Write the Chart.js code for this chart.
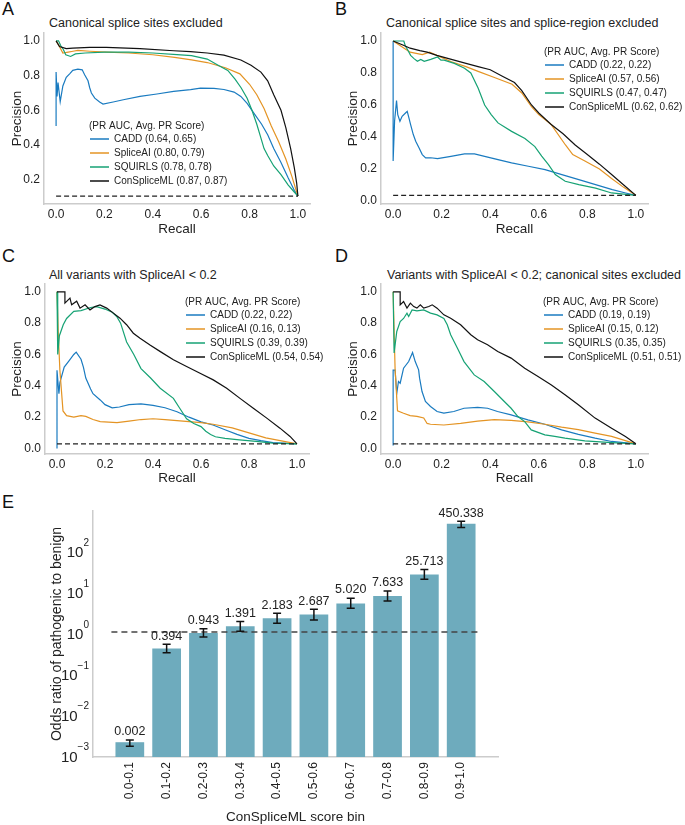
<!DOCTYPE html>
<html>
<head>
<meta charset="utf-8">
<script src="https://cdn.jsdelivr.net/npm/chart.js@4.4.1/dist/chart.umd.min.js"></script>
<style>
  body { margin: 0; background: #fff; }
  #fig { position: relative; width: 685px; height: 825px; font-family: 'Liberation Sans', Arial, sans-serif; color: #222; }
  #fig canvas { position: absolute; }
  .lab { position: absolute; font-size: 18px; line-height: 1; color: #111; }
  .ttl { position: absolute; font-size: 12.5px; line-height: 1; white-space: nowrap; }
</style>
</head>
<body>
<div id="fig">
  <div class="lab" style="left:2px;top:0px">A</div>
  <div class="lab" style="left:335px;top:0px">B</div>
  <div class="lab" style="left:2px;top:247px">C</div>
  <div class="lab" style="left:335px;top:247px">D</div>
  <div class="lab" style="left:2px;top:493px">E</div>
  <div class="ttl" style="left:49px;top:17px">Canonical splice sites excluded</div>
  <div class="ttl" style="left:386px;top:17px">Canonical splice sites and splice-region excluded</div>
  <div class="ttl" style="left:49px;top:269px">All variants with SpliceAI &lt; 0.2</div>
  <div class="ttl" style="left:387px;top:269px">Variants with SpliceAI &lt; 0.2; canonical sites excluded</div>
  <canvas id="pA" width="330" height="240" style="left:0px;top:0px"></canvas>
  <canvas id="pB" width="345" height="240" style="left:340px;top:0px"></canvas>
  <canvas id="pC" width="330" height="245" style="left:0px;top:245px"></canvas>
  <canvas id="pD" width="345" height="245" style="left:340px;top:245px"></canvas>
  <canvas id="pE" width="520" height="330" style="left:0px;top:495px"></canvas>
</div>
<script>
// ---- data: precision-recall curves, [recall, precision] ----
var tools = ["CADD", "SpliceAI", "SQUIRLS", "ConSpliceML"];
var colors = ["#1a7bc0", "#e49424", "#16a274", "#111111"];
var legendTitle = "(PR AUC, Avg. PR Score)";

// A: canonical splice sites excluded
var caddA = [[0,0.51],[0,0.82],[0.004,0.68],[0.008,0.76],[0.017,0.65],[0.028,0.74],[0.042,0.79],[0.056,0.81],[0.069,0.83],[0.09,0.837],[0.108,0.833],[0.118,0.805],[0.132,0.77],[0.139,0.73],[0.146,0.70],[0.16,0.67],[0.18,0.648],[0.194,0.636],[0.236,0.648],[0.278,0.661],[0.347,0.68],[0.417,0.694],[0.486,0.709],[0.556,0.719],[0.597,0.728],[0.653,0.726],[0.694,0.72],[0.736,0.705],[0.764,0.68],[0.79,0.64],[0.82,0.58],[0.85,0.52],[0.875,0.46],[0.9,0.38],[0.93,0.3],[0.96,0.21],[0.985,0.14],[1,0.106]];
var spliceA = [[0,1],[0.011,0.975],[0.028,0.93],[0.05,0.935],[0.07,0.94],[0.09,0.945],[0.14,0.94],[0.21,0.935],[0.3,0.93],[0.4,0.92],[0.49,0.905],[0.56,0.89],[0.625,0.875],[0.7,0.845],[0.76,0.81],[0.8,0.75],[0.83,0.69],[0.86,0.61],[0.89,0.51],[0.92,0.42],[0.95,0.32],[0.975,0.22],[1,0.106]];
var squirlsA = [[0,1],[0.01,1],[0.02,0.97],[0.03,0.95],[0.04,0.92],[0.06,0.91],[0.08,0.925],[0.12,0.93],[0.2,0.935],[0.3,0.935],[0.4,0.93],[0.5,0.92],[0.56,0.915],[0.625,0.895],[0.67,0.86],[0.71,0.83],[0.74,0.78],[0.765,0.73],[0.79,0.67],[0.81,0.6],[0.83,0.52],[0.845,0.45],[0.86,0.38],[0.875,0.34],[0.9,0.28],[0.93,0.23],[0.96,0.17],[0.985,0.13],[1,0.106]];
var consA = [[0,1],[0.014,0.967],[0.042,0.955],[0.069,0.958],[0.139,0.962],[0.208,0.962],[0.347,0.955],[0.486,0.943],[0.556,0.938],[0.625,0.93],[0.694,0.918],[0.764,0.89],[0.806,0.86],[0.847,0.82],[0.875,0.77],[0.9,0.69],[0.93,0.6],[0.95,0.5],[0.97,0.38],[0.985,0.27],[0.995,0.18],[1,0.106]];
var aucA = [0.64, 0.80, 0.78, 0.87];
var apA = [0.65, 0.79, 0.78, 0.87];
var baseA = 0.106;

// B: canonical splice sites and splice-region excluded
var caddB = [[0,1],[0,0.25],[0.006,0.5],[0.014,0.627],[0.019,0.54],[0.028,0.498],[0.037,0.529],[0.051,0.55],[0.058,0.56],[0.065,0.519],[0.072,0.477],[0.083,0.415],[0.093,0.373],[0.107,0.331],[0.12,0.29],[0.134,0.269],[0.155,0.27],[0.183,0.265],[0.238,0.279],[0.294,0.294],[0.335,0.294],[0.377,0.279],[0.432,0.258],[0.488,0.238],[0.557,0.217],[0.626,0.196],[0.695,0.165],[0.765,0.133],[0.834,0.102],[0.903,0.071],[0.958,0.05],[1,0.035]];
var spliceB = [[0,1],[0.05,0.95],[0.07,0.93],[0.12,0.915],[0.15,0.93],[0.18,0.91],[0.24,0.87],[0.3,0.84],[0.35,0.81],[0.42,0.77],[0.49,0.73],[0.53,0.675],[0.57,0.59],[0.6,0.54],[0.65,0.48],[0.71,0.35],[0.74,0.29],[0.79,0.25],[0.85,0.2],[0.9,0.14],[0.95,0.085],[1,0.035]];
var squirlsB = [[0,1],[0.044,1],[0.05,0.97],[0.058,0.95],[0.072,0.91],[0.086,0.89],[0.1,0.873],[0.114,0.885],[0.128,0.873],[0.155,0.885],[0.183,0.9],[0.197,0.88],[0.21,0.88],[0.252,0.86],[0.294,0.83],[0.32,0.8],[0.35,0.706],[0.377,0.6],[0.404,0.54],[0.432,0.488],[0.488,0.435],[0.543,0.39],[0.584,0.34],[0.612,0.28],[0.64,0.227],[0.668,0.165],[0.709,0.123],[0.765,0.102],[0.834,0.08],[0.9,0.05],[1,0.035]];
var consB = [[0,1],[0.04,0.975],[0.07,0.955],[0.11,0.94],[0.14,0.93],[0.18,0.91],[0.24,0.885],[0.3,0.86],[0.35,0.84],[0.4,0.82],[0.45,0.78],[0.5,0.74],[0.53,0.69],[0.57,0.6],[0.6,0.55],[0.65,0.48],[0.7,0.42],[0.75,0.35],[0.8,0.29],[0.85,0.23],[0.9,0.165],[0.95,0.1],[1,0.035]];
var aucB = [0.22, 0.57, 0.47, 0.62];
var apB = [0.22, 0.56, 0.47, 0.62];
var baseB = 0.035;

// C: all variants with SpliceAI < 0.2
var caddC = [[0,0.0],[0,0.5],[0.008,0.35],[0.012,0.42],[0.03,0.52],[0.05,0.56],[0.07,0.6],[0.08,0.615],[0.1,0.57],[0.11,0.52],[0.12,0.45],[0.14,0.38],[0.15,0.35],[0.18,0.31],[0.2,0.28],[0.23,0.26],[0.26,0.265],[0.3,0.28],[0.35,0.285],[0.4,0.275],[0.45,0.26],[0.5,0.235],[0.55,0.2],[0.6,0.17],[0.65,0.15],[0.7,0.12],[0.75,0.09],[0.8,0.065],[0.85,0.05],[0.9,0.038],[1,0.03]];
var spliceC = [[0,1.0],[0.005,0.75],[0.012,0.5],[0.025,0.24],[0.04,0.21],[0.07,0.2],[0.1,0.21],[0.12,0.205],[0.15,0.185],[0.18,0.172],[0.25,0.165],[0.3,0.175],[0.35,0.185],[0.4,0.19],[0.45,0.185],[0.5,0.178],[0.6,0.165],[0.65,0.155],[0.73,0.132],[0.8,0.1],[0.87,0.068],[0.93,0.05],[1,0.03]];
var squirlsC = [[0,1.0],[0.003,0.6],[0.01,0.72],[0.026,0.79],[0.04,0.83],[0.07,0.875],[0.1,0.88],[0.14,0.9],[0.165,0.905],[0.2,0.89],[0.23,0.87],[0.25,0.84],[0.265,0.8],[0.29,0.68],[0.32,0.6],[0.35,0.51],[0.39,0.45],[0.43,0.385],[0.485,0.32],[0.51,0.26],[0.54,0.19],[0.57,0.16],[0.6,0.14],[0.62,0.11],[0.64,0.09],[0.66,0.075],[0.7,0.065],[0.76,0.055],[0.83,0.045],[0.9,0.035],[1,0.03]];
var consC = [[0,1],[0.033,1],[0.033,0.928],[0.054,0.96],[0.061,0.917],[0.082,0.94],[0.096,0.896],[0.117,0.917],[0.1375,0.885],[0.158,0.906],[0.179,0.917],[0.207,0.896],[0.235,0.864],[0.2625,0.832],[0.29,0.79],[0.318,0.736],[0.346,0.704],[0.3875,0.66],[0.429,0.62],[0.485,0.566],[0.54,0.523],[0.596,0.48],[0.651,0.438],[0.707,0.385],[0.7625,0.32],[0.818,0.257],[0.874,0.194],[0.929,0.13],[0.971,0.077],[1,0.03]];
var aucC = [0.22, 0.16, 0.39, 0.54];
var apC = [0.22, 0.13, 0.39, 0.54];
var baseC = 0.03;

// D: SpliceAI < 0.2, canonical sites excluded
var caddD = [[0,0.02],[0,0.5],[0.008,0.5],[0.015,0.353],[0.022,0.428],[0.029,0.417],[0.043,0.513],[0.064,0.555],[0.08,0.613],[0.091,0.555],[0.105,0.502],[0.109,0.449],[0.119,0.364],[0.133,0.3],[0.154,0.268],[0.181,0.236],[0.209,0.226],[0.25,0.236],[0.292,0.257],[0.348,0.262],[0.389,0.257],[0.43,0.236],[0.486,0.215],[0.555,0.183],[0.625,0.155],[0.694,0.119],[0.763,0.09],[0.832,0.066],[0.9,0.045],[1,0.03]];
var spliceD = [[0,1],[0.008,0.51],[0.018,0.24],[0.043,0.225],[0.07,0.21],[0.098,0.205],[0.126,0.195],[0.14,0.16],[0.154,0.155],[0.209,0.15],[0.278,0.16],[0.348,0.175],[0.417,0.185],[0.486,0.18],[0.555,0.17],[0.625,0.155],[0.694,0.136],[0.763,0.12],[0.832,0.098],[0.9,0.077],[1,0.03]];
var squirlsD = [[0,1],[0.004,0.61],[0.015,0.747],[0.029,0.81],[0.043,0.83],[0.057,0.864],[0.064,0.843],[0.078,0.885],[0.098,0.879],[0.126,0.885],[0.154,0.864],[0.181,0.853],[0.209,0.83],[0.223,0.79],[0.237,0.726],[0.265,0.64],[0.292,0.555],[0.334,0.47],[0.375,0.428],[0.417,0.364],[0.458,0.3],[0.486,0.257],[0.514,0.204],[0.542,0.172],[0.569,0.119],[0.625,0.087],[0.666,0.077],[0.708,0.066],[0.79,0.049],[0.9,0.038],[1,0.03]];
var consD = [[0,1],[0.029,1],[0.029,0.917],[0.043,0.938],[0.057,0.896],[0.071,0.928],[0.085,0.906],[0.098,0.896],[0.112,0.917],[0.126,0.896],[0.147,0.906],[0.161,0.917],[0.181,0.896],[0.209,0.853],[0.237,0.832],[0.278,0.79],[0.32,0.726],[0.348,0.694],[0.389,0.662],[0.431,0.619],[0.486,0.577],[0.542,0.513],[0.597,0.46],[0.652,0.406],[0.708,0.343],[0.763,0.279],[0.832,0.194],[0.9,0.13],[0.957,0.077],[1,0.03]];
var aucD = [0.19, 0.15, 0.35, 0.51];
var apD = [0.19, 0.12, 0.35, 0.51];
var baseD = 0.03;

var prTicks = [0, 0.2, 0.4, 0.6, 0.8, 1.0];
var prTicksA = [0.2, 0.4, 0.6, 0.8, 1.0];

// E: odds ratio by ConSpliceML score bin
var bins = ["0.0-0.1","0.1-0.2","0.2-0.3","0.3-0.4","0.4-0.5","0.5-0.6","0.6-0.7","0.7-0.8","0.8-0.9","0.9-1.0"];
var odds = [0.002, 0.394, 0.943, 1.391, 2.183, 2.687, 5.020, 7.633, 25.713, 450.338];
var oddsLow = [0.0016, 0.31, 0.755, 1.04, 1.63, 1.97, 3.8, 5.75, 19.5, 365];
var oddsHigh = [0.00226, 0.5, 1.21, 1.82, 2.86, 3.59, 6.7, 10.1, 34, 514];
var oddsLabels = ["0.002","0.394","0.943","1.391","2.183","2.687","5.020","7.633","25.713","450.338"];
var logTicks = [0.001, 0.01, 0.1, 1, 10, 100];

Chart.defaults.font.family = "'Liberation Sans', Arial, sans-serif";
Chart.defaults.color = "#222";
var narrow = "'Liberation Sans Narrow', 'Liberation Sans', Arial, sans-serif";
var spine = { color: "#cccccc", width: 1.5 };

// legend drawn inside the plot area
var prLegend = {
  id: "prLegend",
  afterDraw: function(chart, args, o) {
    if (!o.names) return;
    var ctx = chart.ctx, a = chart.chartArea;
    var x = a.left + o.x, y = a.top + o.y;
    ctx.save();
    ctx.font = "10px 'Liberation Sans', Arial, sans-serif";
    ctx.fillStyle = "#222";
    ctx.textBaseline = "middle";
    ctx.textAlign = "left";
    ctx.fillText(legendTitle, x, y);
    for (var i = 0; i < o.names.length; i++) {
      var yy = y + 13 + i * 14;
      ctx.strokeStyle = colors[i];
      ctx.lineWidth = 1.5;
      ctx.beginPath();
      ctx.moveTo(x + 1, yy);
      ctx.lineTo(x + 20, yy);
      ctx.stroke();
      ctx.fillText(o.names[i] + " (" + o.auc[i].toFixed(2) + ", " + o.ap[i].toFixed(2) + ")", x + 25, yy);
    }
    ctx.restore();
  }
};

function prChart(id, curves, base, auc, ap, yMin, yMax, yTicks, g) {
  var sets = curves.map(function(c, i) {
    return {
      label: tools[i],
      data: c.map(function(p) { return { x: p[0], y: p[1] }; }),
      borderColor: colors[i],
      borderWidth: 1.2,
      pointRadius: 0,
      tension: 0,
      order: 4 - i
    };
  });
  sets.push({
    label: "baseline",
    data: [{ x: 0, y: base }, { x: 1, y: base }],
    borderColor: "#222",
    borderWidth: 1.2,
    borderDash: [5, 3],
    pointRadius: 0,
    order: 0
  });
  return new Chart(document.getElementById(id), {
    type: "line",
    data: { datasets: sets },
    options: {
      responsive: false,
      animation: false,
      events: [],
      layout: { padding: { top: g.pt, right: g.pr, left: 0, bottom: 0 } },
      plugins: {
        legend: { display: false },
        tooltip: { enabled: false },
        prLegend: { names: tools, auc: auc, ap: ap, x: g.lx, y: g.ly }
      },
      scales: {
        x: {
          type: "linear", min: -0.05, max: 1.05, bounds: "data",
          grid: { display: false, drawTicks: false },
          border: spine,
          ticks: { padding: 3, font: { size: 12 }, maxRotation: 0, callback: function(v) { return v.toFixed(1); } },
          afterBuildTicks: function(s) { s.ticks = prTicks.map(function(v) { return { value: v }; }); },
          afterFit: function(s) { s.height = g.hx; },
          title: { display: true, text: "Recall", font: { size: 13.5 }, padding: { top: 0, bottom: g.xtp } }
        },
        y: {
          type: "linear", min: yMin, max: yMax, bounds: "data",
          grid: { display: false, drawTicks: false },
          border: spine,
          ticks: { padding: 4, font: { size: 12 }, callback: function(v) { return v.toFixed(1); } },
          afterBuildTicks: function(s) { s.ticks = yTicks.map(function(v) { return { value: v }; }); },
          afterFit: function(s) { s.width = g.wy; },
          title: { display: true, text: "Precision", font: { size: 13.5 }, padding: { top: g.ytp, bottom: 0 } }
        }
      }
    },
    plugins: [prLegend]
  });
}

prChart("pA", [caddA, spliceA, squirlsA, consA], baseA, aucA, apA, 0.061, 1.045, prTicksA,
  { wy: 44, hx: 36, pt: 33, pr: 20, xtp: 3, ytp: 9, lx: 45, ly: 93 });
prChart("pB", [caddB, spliceB, squirlsB, consB], baseB, aucB, apB, -0.019, 1.05, prTicks,
  { wy: 41, hx: 36, pt: 33, pr: 37, xtp: 3, ytp: 5, lx: 163, ly: 19 });
prChart("pC", [caddC, spliceC, squirlsC, consC], baseC, aucC, apC, -0.035, 1.05, prTicks,
  { wy: 45, hx: 36, pt: 39, pr: 21, xtp: 4, ytp: 9, lx: 140, ly: 18 });
prChart("pD", [caddD, spliceD, squirlsD, consD], baseD, aucD, apD, -0.035, 1.05, prTicks,
  { wy: 41, hx: 36, pt: 39, pr: 37, xtp: 4, ytp: 5, lx: 162, ly: 18 });

// panel E extras: reference line at 1, error bars, value labels, 10^n tick labels
var oddsExtras = {
  id: "oddsExtras",
  afterDatasetsDraw: function(chart) {
    var ctx = chart.ctx, xs = chart.scales.x, ys = chart.scales.y;
    ctx.save();
    // dashed line at odds ratio 1
    ctx.strokeStyle = "#444";
    ctx.lineWidth = 1.3;
    ctx.setLineDash([6, 4]);
    ctx.beginPath();
    ctx.moveTo(xs.getPixelForValue(-0.5), ys.getPixelForValue(1));
    ctx.lineTo(xs.getPixelForValue(9.5), ys.getPixelForValue(1));
    ctx.stroke();
    ctx.setLineDash([]);
    // error bars
    ctx.strokeStyle = "#111";
    ctx.lineWidth = 1.5;
    for (var i = 0; i < odds.length; i++) {
      var x = xs.getPixelForValue(i);
      var lo = ys.getPixelForValue(oddsLow[i]), hi = ys.getPixelForValue(oddsHigh[i]);
      ctx.beginPath();
      ctx.moveTo(x, lo); ctx.lineTo(x, hi);
      ctx.moveTo(x - 4, lo); ctx.lineTo(x + 4, lo);
      ctx.moveTo(x - 4, hi); ctx.lineTo(x + 4, hi);
      ctx.stroke();
      ctx.fillStyle = "#222";
      ctx.font = "12.5px " + narrow;
      ctx.textAlign = "center";
      ctx.textBaseline = "bottom";
      ctx.fillText(oddsLabels[i], x, hi - 2);
    }
    // y tick labels: "10" with a raised exponent
    ctx.fillStyle = "#222";
    ctx.textBaseline = "middle";
    var right = chart.chartArea.left - 4;
    logTicks.forEach(function(v) {
      var y = ys.getPixelForValue(v);
      var e = String(Math.round(Math.log10(v))).replace("-", "\u2212");
      ctx.font = "10px 'Liberation Sans', Arial, sans-serif";
      ctx.textAlign = "right";
      ctx.fillText(e, right, y - 7);
      var w = ctx.measureText(e).width;
      ctx.font = "15px 'Liberation Sans', Arial, sans-serif";
      ctx.fillText("10", right - w, y + 3);
    });
    ctx.restore();
  }
};

new Chart(document.getElementById("pE"), {
  type: "bar",
  data: {
    datasets: [{
      label: "Odds ratio",
      data: odds.map(function(v, i) { return { x: i, y: v }; }),
      backgroundColor: "#6eabbd",
      borderWidth: 0,
      barPercentage: 0.78,
      categoryPercentage: 1
    }]
  },
  options: {
    responsive: false,
    animation: false,
    events: [],
    layout: { padding: { top: 16, right: 22, left: 0, bottom: 0 } },
    plugins: { legend: { display: false }, tooltip: { enabled: false } },
    scales: {
      x: {
        type: "linear", min: -1, max: 10, offset: false, bounds: "data",
        grid: { display: false, drawTicks: false },
        border: spine,
        ticks: { minRotation: 90, maxRotation: 90, autoSkip: false, padding: 5, font: { size: 12, family: narrow },
          callback: function(v) { return bins[v]; } },
        afterBuildTicks: function(s) { s.ticks = bins.map(function(b, i) { return { value: i }; }); },
        afterFit: function(s) { s.height = 68; },
        title: { display: true, text: "ConSpliceML score bin", font: { size: 13.5, family: narrow }, padding: { top: 0, bottom: 0 } }
      },
      y: {
        type: "logarithmic", min: 0.000869, max: 919, bounds: "data",
        grid: { display: false, drawTicks: false },
        border: spine,
        ticks: { display: false },
        afterBuildTicks: function(s) { s.ticks = logTicks.map(function(v) { return { value: v }; }); },
        afterFit: function(s) { s.width = 93; },
        title: { display: true, text: "Odds ratio of pathogenic to benign", font: { size: 14 }, padding: { top: 49, bottom: 0 } }
      }
    }
  },
  plugins: [oddsExtras]
});
</script>
</body>
</html>
